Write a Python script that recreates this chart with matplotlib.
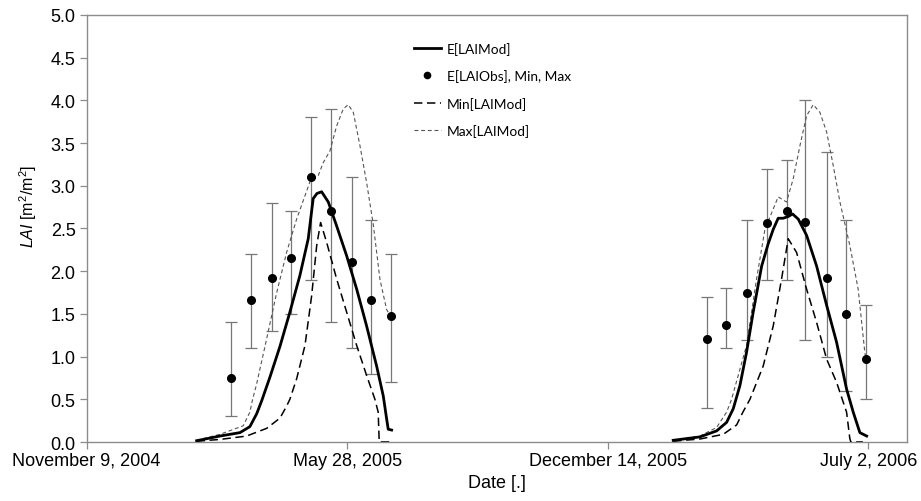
import numpy as np
import pandas as pd
import matplotlib
matplotlib.use("Agg")
import matplotlib.pyplot as plt
from matplotlib.lines import Line2D

plt.rcParams['font.family'] = ['Liberation Sans', 'DejaVu Sans']
plt.rcParams['mathtext.fontset'] = 'custom'
plt.rcParams['mathtext.rm'] = 'Liberation Sans'
plt.rcParams['mathtext.it'] = 'Liberation Sans:italic'

start = pd.Timestamp("2004-11-09")

# E[LAIMod] (days since Nov 9 2004)
emod_days_1 = [84.4, 102.3, 117.7, 125.3, 130.5, 134.3, 140.7, 148.4, 156.0, 163.7, 170.1, 173.9,
               176.8, 180.4, 185.5, 191.9, 199.6, 207.3, 214.9, 222.6, 227.7, 230.3, 231.5, 234.1]
emod_vals_1 = [0.015, 0.07, 0.11, 0.18, 0.33, 0.48, 0.76, 1.12, 1.52, 1.95, 2.38, 2.85,
               2.91, 2.93, 2.81, 2.53, 2.18, 1.79, 1.36, 0.89, 0.54, 0.27, 0.15, 0.14]
emod_days_2 = [450.3, 470.8, 483.6, 491.3, 496.4, 501.5, 506.6, 511.7, 518.2, 523.2, 527.1, 530.9,
               534.7, 538.6, 541.9, 546.3, 552.7, 560.4, 568.1, 575.7, 583.4, 588.5, 593.6, 598.8]
emod_vals_2 = [0.02, 0.06, 0.13, 0.23, 0.39, 0.66, 1.05, 1.52, 2.06, 2.32, 2.49, 2.62,
               2.62, 2.64, 2.67, 2.61, 2.42, 2.06, 1.60, 1.17, 0.62, 0.35, 0.11, 0.07]

# Min[LAIMod]
min_days_1 = [84.4, 102.3, 122.8, 138.2, 148.4, 153.5, 156.0, 161.2, 167.6, 172.7, 176.6, 179.6,
              184.2, 191.9, 199.6, 207.3, 214.9, 221.3, 223.8, 224.6, 234.1]
min_vals_1 = [0.01, 0.03, 0.07, 0.16, 0.28, 0.42, 0.50, 0.74, 1.13, 1.71, 2.30, 2.57,
              2.34, 1.91, 1.52, 1.13, 0.78, 0.50, 0.35, 0.0, 0.0]
min_days_2 = [450.3, 470.8, 488.7, 499.0, 503.8, 509.2, 519.4, 527.1, 533.5, 538.6, 545.0, 552.7,
              560.4, 568.1, 575.7, 583.4, 585.9, 586.7, 595.9]
min_vals_2 = [0.01, 0.035, 0.09, 0.20, 0.35, 0.50, 0.89, 1.36, 1.91, 2.38, 2.22, 1.79,
              1.40, 0.97, 0.70, 0.35, 0.04, 0.0, 0.0]

# Max[LAIMod]
max_days_1 = [84.4, 102.3, 120.2, 125.3, 127.4, 130.5, 138.2, 145.9, 153.5, 161.2, 172.2, 177.8,
              181.6, 186.8, 191.9, 197.0, 200.8, 204.7, 209.8, 214.9, 220.0, 225.2, 230.3, 233.4]
max_vals_1 = [0.02, 0.09, 0.19, 0.35, 0.50, 0.68, 1.21, 1.75, 2.22, 2.61, 3.08, 3.12,
              3.27, 3.41, 3.70, 3.90, 3.95, 3.86, 3.47, 3.04, 2.55, 1.90, 1.55, 1.47]
max_days_2 = [450.3, 470.8, 483.6, 491.3, 495.1, 506.6, 514.3, 520.7, 530.9, 537.3, 542.4, 547.6,
              552.7, 557.8, 562.9, 568.1, 573.1, 578.3, 585.9, 592.3, 597.4, 598.2]
max_vals_2 = [0.02, 0.07, 0.17, 0.35, 0.50, 1.13, 1.91, 2.49, 2.87, 2.81, 3.08, 3.47,
              3.82, 3.95, 3.86, 3.63, 3.24, 2.81, 2.30, 1.79, 1.05, 0.97]

# E[LAIObs] with min / max
obs_days = [111, 126, 142, 157, 172, 187.5, 203.5, 218, 233.4,
            476, 491, 507, 522, 537.3, 551.6, 568.3, 582.6, 598]
obs_mean = [0.75, 1.66, 1.92, 2.16, 3.10, 2.70, 2.11, 1.66, 1.47,
            1.21, 1.37, 1.75, 2.57, 2.71, 2.58, 1.92, 1.50, 0.97]
obs_min = [0.30, 1.10, 1.30, 1.50, 1.90, 1.40, 1.10, 0.80, 0.70,
           0.40, 1.10, 1.20, 1.90, 1.90, 1.20, 1.00, 0.60, 0.50]
obs_max = [1.40, 2.20, 2.80, 2.70, 3.80, 3.90, 3.10, 2.60, 2.20,
           1.70, 1.80, 2.60, 3.20, 3.30, 4.00, 3.40, 2.60, 1.60]

tick_dates = ["2004-11-09", "2005-05-28", "2005-12-14", "2006-07-02"]
tick_labels = ["November 9, 2004", "May 28, 2005", "December 14, 2005", "July 2, 2006"]


def to_dates(days):
    return start + pd.to_timedelta(np.array(days), unit="D")


fig = plt.figure(figsize=(9.21, 5.02), dpi=100)
ax = fig.add_axes([0.0941, 0.1175, 0.891, 0.8507])

om = np.array(obs_mean)
ax.errorbar(to_dates(obs_days), om, yerr=[om - np.array(obs_min), np.array(obs_max) - om],
            fmt="none", ecolor="#777777", elinewidth=0.9, capsize=4.5, capthick=0.9, zorder=1)

for d, v in [(max_days_1, max_vals_1), (max_days_2, max_vals_2)]:
    ax.plot(to_dates(d), v, color="#555555", lw=0.8, dashes=(3.5, 2.5), zorder=2)
for d, v in [(min_days_1, min_vals_1), (min_days_2, min_vals_2)]:
    ax.plot(to_dates(d), v, color="black", lw=1.1, dashes=(5.5, 3), zorder=3)
for d, v in [(emod_days_1, emod_vals_1), (emod_days_2, emod_vals_2)]:
    ax.plot(to_dates(d), v, color="black", lw=2.0, zorder=4)

ax.plot(to_dates(obs_days), om, "o", color="black", ms=5.5, zorder=5)

ax.set_xlim(start, start + pd.Timedelta(days=630))
ax.set_ylim(0, 5)
ax.set_yticks(np.arange(0, 5.01, 0.5))
ax.set_yticklabels([f"{t:.1f}" for t in np.arange(0, 5.01, 0.5)])
ax.set_xticks(pd.to_datetime(tick_dates))
ax.set_xticklabels(tick_labels)

for s in ax.spines.values():
    s.set_color("#8c8c8c")
    s.set_linewidth(1.0)
ax.tick_params(axis="both", colors="#8c8c8c", labelcolor="black", labelsize=13,
               length=5, width=0.9)
ax.tick_params(axis="x", pad=2)
ax.tick_params(axis="y", pad=3)

ax.set_xlabel("Date [.]", fontsize=13, labelpad=4)
ax.set_ylabel(r"$\it{LAI}$ [m$^2$/m$^2$]", fontsize=11.5)
ax.yaxis.set_label_coords(-0.058, 0.553)

handles = [
    Line2D([], [], color="black", lw=2.0),
    Line2D([], [], color="black", marker="o", ms=4.5, ls="none"),
    Line2D([], [], color="black", lw=1.1, dashes=(5.5, 3)),
    Line2D([], [], color="#555555", lw=0.8, dashes=(3.5, 2.5)),
]
labels = ["E[LAIMod]", "E[LAIObs], Min, Max", "Min[LAIMod]", "Max[LAIMod]"]
leg = ax.legend(handles, labels, loc="upper left", bbox_to_anchor=(0.39, 0.953),
                frameon=False, borderpad=0, handlelength=2.0, handletextpad=0.42,
                labelspacing=1.05, prop={"family": "Lato", "size": 9.9})

fig.savefig("out.png", dpi=100)
